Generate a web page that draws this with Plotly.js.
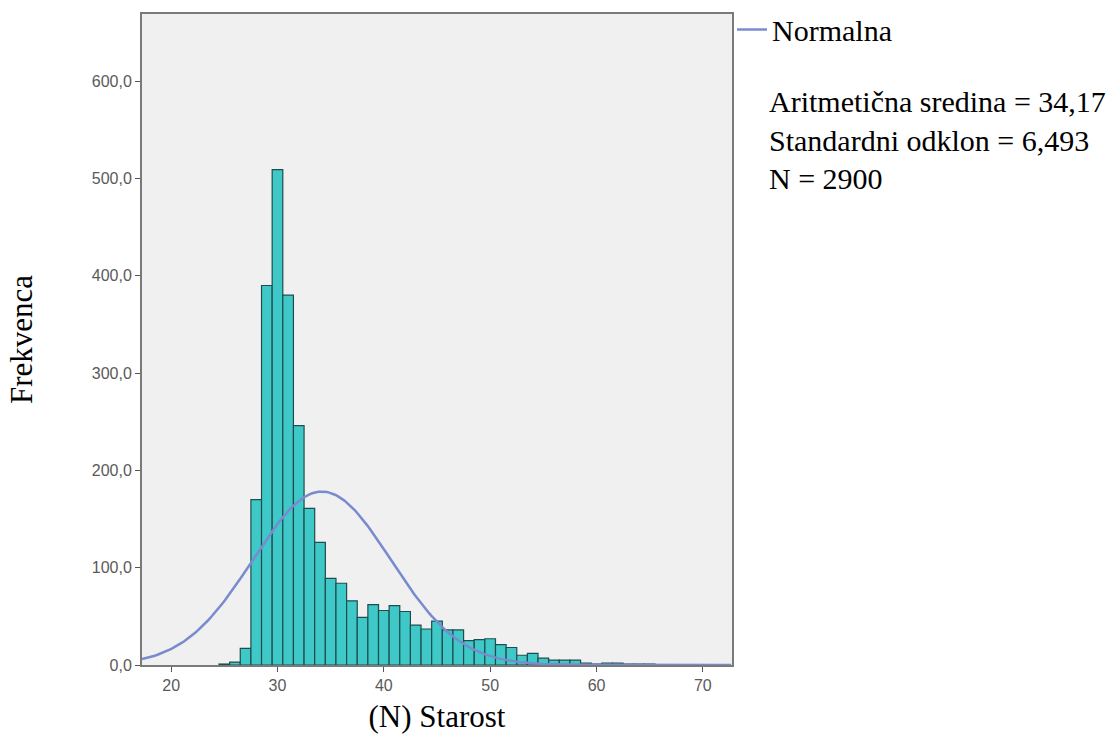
<!DOCTYPE html>
<html>
<head>
<meta charset="utf-8">
<script src="https://cdn.plot.ly/plotly-3.0.1.min.js"></script>
<style>html,body{margin:0;padding:0;background:#fff;}#chart{width:1107px;height:745px;}</style>
</head>
<body>
<div id="chart"></div>
<script>
// Age bins (width 1, centred on whole years) and their frequencies
const ages = [25, 26, 27, 28, 29, 30, 31, 32, 33, 34, 35, 36, 37, 38, 39, 40, 41, 42, 43, 44, 45,
              46, 47, 48, 49, 50, 51, 52, 53, 54, 55, 56, 57, 58, 59, 60, 61, 62, 63, 64, 65];
const counts = [1, 3, 17, 170, 390, 509, 380, 246, 161, 126, 89, 84, 66, 49, 62, 56, 61, 55, 41, 37, 45,
                36, 36, 25, 26, 27, 21, 18, 10, 12, 7, 5, 5, 5, 2, 1, 2, 2, 1, 1, 1];

// Statistics shown in the legend
const mean = 34.17;
const sd = 6.493;
const n = 2900;
const binWidth = 1;

const xTicks = [20, 30, 40, 50, 60, 70];
const xRange = [17.26, 72.74];
const yRange = [0, 669];

// Fitted normal curve from the reported mean / sd / N
const curveX = [];
const curveY = [];
for (let x = xRange[0]; x <= xRange[1] + 1e-9; x += 0.2) {
  curveX.push(x);
  curveY.push(n * binWidth / (sd * Math.sqrt(2 * Math.PI)) * Math.exp(-0.5 * Math.pow((x - mean) / sd, 2)));
}

const serif = 'Liberation Serif, Times New Roman, serif';
const sans = 'Liberation Sans, Arial, sans-serif';

const traces = [
  {
    type: 'bar', x: ages, y: counts, width: binWidth,
    marker: {color: '#3fc8c8', line: {color: '#1f4d4d', width: 1.2}},
    showlegend: false, hoverinfo: 'x+y'
  },
  {
    type: 'scatter', mode: 'lines', x: curveX, y: curveY, name: 'Normalna',
    line: {color: '#788bcf', width: 2.5}, showlegend: true
  }
];

const layout = {
  width: 1107, height: 745,
  margin: {l: 142, r: 375, t: 14, b: 80, autoexpand: false},
  paper_bgcolor: '#ffffff',
  plot_bgcolor: '#f0f0f0',
  separators: ', ',
  bargap: 0,
  showlegend: true,
  legend: {
    x: 1.0, xanchor: 'left', y: 1.016, yanchor: 'top',
    font: {family: serif, size: 30, color: '#000'},
    bgcolor: 'rgba(0,0,0,0)', borderwidth: 0, itemwidth: 30
  },
  xaxis: {
    range: xRange, tickvals: xTicks, ticks: 'outside', ticklen: 5, tickwidth: 1, tickcolor: '#555',
    showline: true, linecolor: '#7a7a7a', linewidth: 2, mirror: true,
    showgrid: false, zeroline: false,
    tickfont: {family: sans, size: 16, color: '#5a5a5a'},
    title: {text: '(N) Starost', font: {family: serif, size: 31, color: '#000'}, standoff: 12}
  },
  yaxis: {
    range: yRange, dtick: 100, tick0: 0, tickformat: '.1f', ticks: 'outside', ticklen: 5, tickwidth: 1, tickcolor: '#555',
    showline: true, linecolor: '#7a7a7a', linewidth: 2, mirror: true,
    showgrid: false, zeroline: false,
    tickfont: {family: sans, size: 16, color: '#5a5a5a'},
    title: {text: 'Frekvenca', font: {family: serif, size: 31, color: '#000'}, standoff: 50}
  },
  annotations: [
    {xref: 'paper', yref: 'paper', x: 1.059, y: 0.865, xanchor: 'left', yanchor: 'middle', showarrow: false,
     text: 'Aritmetična sredina = 34,17', font: {family: serif, size: 30, color: '#000'}},
    {xref: 'paper', yref: 'paper', x: 1.059, y: 0.806, xanchor: 'left', yanchor: 'middle', showarrow: false,
     text: 'Standardni odklon = 6,493', font: {family: serif, size: 30, color: '#000'}},
    {xref: 'paper', yref: 'paper', x: 1.059, y: 0.748, xanchor: 'left', yanchor: 'middle', showarrow: false,
     text: 'N = 2900', font: {family: serif, size: 30, color: '#000'}}
  ]
};

Plotly.newPlot('chart', traces, layout, {displayModeBar: false, staticPlot: true});
</script>
</body>
</html>
